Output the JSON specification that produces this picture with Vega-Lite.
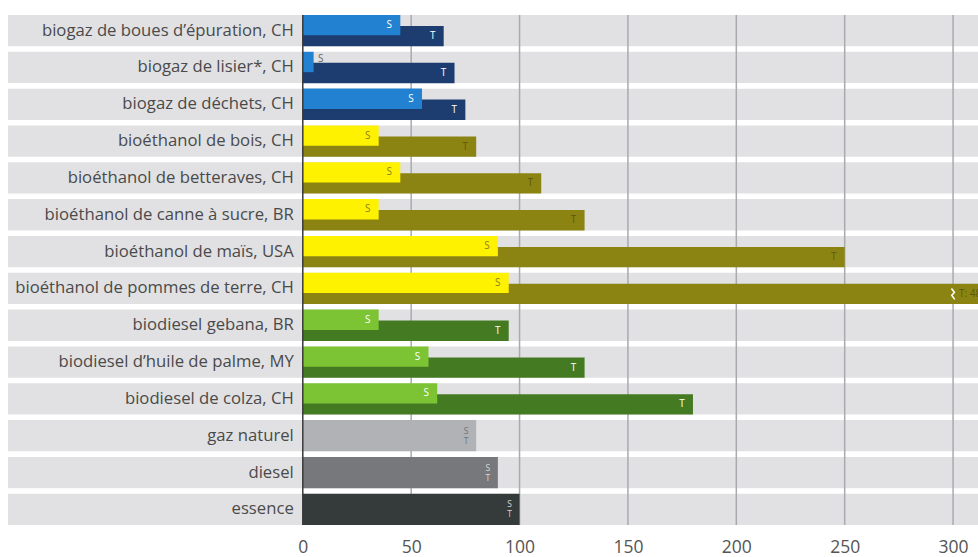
{
  "$schema": "https://vega.github.io/schema/vega-lite/v6.json",
  "width": 970,
  "height": 510,
  "autosize": "none",
  "padding": {"left": 8, "top": 15, "right": 0, "bottom": 32},
  "background": "white",
  "config": {"view": {"stroke": null}, "font": "Open Sans"},
  "data": {"values": [
    {"cat": "biogaz de boues d’épuration, CH", "grp": "biogaz", "S": 45, "T": 65},
    {"cat": "biogaz de lisier*, CH", "grp": "biogaz", "S": 5, "T": 70},
    {"cat": "biogaz de déchets, CH", "grp": "biogaz", "S": 55, "T": 75},
    {"cat": "bioéthanol de bois, CH", "grp": "ethanol", "S": 35, "T": 80},
    {"cat": "bioéthanol de betteraves, CH", "grp": "ethanol", "S": 45, "T": 110},
    {"cat": "bioéthanol de canne à sucre, BR", "grp": "ethanol", "S": 35, "T": 130},
    {"cat": "bioéthanol de maïs, USA", "grp": "ethanol", "S": 90, "T": 250},
    {"cat": "bioéthanol de pommes de terre, CH", "grp": "ethanol", "S": 95, "T": 480},
    {"cat": "biodiesel gebana, BR", "grp": "biodiesel", "S": 35, "T": 95},
    {"cat": "biodiesel d’huile de palme, MY", "grp": "biodiesel", "S": 58, "T": 130},
    {"cat": "biodiesel de colza, CH", "grp": "biodiesel", "S": 62, "T": 180},
    {"cat": "gaz naturel", "grp": "gaz", "S": 80, "T": 80},
    {"cat": "diesel", "grp": "diesel", "S": 90, "T": 90},
    {"cat": "essence", "grp": "essence", "S": 100, "T": 100}
  ]},
  "encoding": {
    "y": {
      "field": "cat", "type": "nominal", "sort": null,
      "scale": {"paddingInner": 0.15, "paddingOuter": 0},
      "axis": null
    }
  },
  "layer": [
    {
      "mark": {"type": "bar", "color": "#e1e1e3"},
      "encoding": {
        "x": {
          "datum": -136, "type": "quantitative",
          "scale": {"domain": [-136, 311.5], "nice": false, "zero": false, "clamp": true},
          "axis": {
            "values": [0, 50, 100, 150, 200, 250, 300],
            "grid": false, "ticks": false, "domain": false, "title": null,
            "labelFontSize": 17.5, "labelColor": "#555555", "labelPadding": 13, "labelFont": "Open Sans"
          }
        },
        "x2": {"datum": 311.5}
      }
    },
    {
      "data": {"values": [{"v": 50}, {"v": 100}, {"v": 150}, {"v": 200}, {"v": 250}, {"v": 300}]},
      "mark": {"type": "rule", "color": "#a9aaad", "strokeWidth": 1.5},
      "encoding": {"x": {"field": "v", "type": "quantitative"}, "y": null}
    },
    {
      "transform": [{"filter": "datum.grp === 'biogaz' || datum.grp === 'ethanol' || datum.grp === 'biodiesel'"}],
      "mark": {"type": "bar", "height": {"band": 0.65}, "yOffset": 5.5},
      "encoding": {
        "x": {"field": "T", "type": "quantitative"},
        "x2": {"datum": 0},
        "color": {"condition": [
          {"test": "datum.grp === 'biogaz'", "value": "#1d3d70"},
          {"test": "datum.grp === 'ethanol'", "value": "#8b8412"}
        ], "value": "#447a22"}
      }
    },
    {
      "transform": [{"filter": "datum.grp === 'biogaz' || datum.grp === 'ethanol' || datum.grp === 'biodiesel'"}],
      "mark": {"type": "bar", "height": {"band": 0.65}, "yOffset": -5.5},
      "encoding": {
        "x": {"field": "S", "type": "quantitative"},
        "x2": {"datum": 0},
        "color": {"condition": [
          {"test": "datum.grp === 'biogaz'", "value": "#2381d1"},
          {"test": "datum.grp === 'ethanol'", "value": "#fff200"}
        ], "value": "#7cc433"}
      }
    },
    {
      "transform": [{"filter": "datum.grp === 'gaz' || datum.grp === 'diesel' || datum.grp === 'essence'"}],
      "mark": {"type": "bar"},
      "encoding": {
        "x": {"field": "T", "type": "quantitative"},
        "x2": {"datum": 0},
        "color": {"condition": [
          {"test": "datum.grp === 'gaz'", "value": "#b0b2b5"},
          {"test": "datum.grp === 'diesel'", "value": "#76787b"}
        ], "value": "#353a3a"}
      }
    },
    {
      "data": {"values": [{"v": 0}]},
      "mark": {"type": "rule", "color": "#3a3a3a", "strokeWidth": 1.5},
      "encoding": {"x": {"field": "v", "type": "quantitative"}, "y": null}
    },
    {
      "mark": {"type": "text", "align": "right", "baseline": "middle", "dx": -9, "fontSize": 16.7, "color": "#4a4a4a"},
      "encoding": {
        "x": {"datum": 0},
        "text": {"field": "cat"}
      }
    },
    {
      "transform": [{"filter": "(datum.grp === 'biogaz' || datum.grp === 'ethanol' || datum.grp === 'biodiesel') && datum.T <= 300"}],
      "mark": {"type": "text", "align": "center", "baseline": "middle", "dx": -11, "dy": 5.5, "fontSize": 10},
      "encoding": {
        "x": {"field": "T", "type": "quantitative"},
        "text": {"value": "T"},
        "color": {"condition": {"test": "datum.grp === 'ethanol'", "value": "#5c570c"}, "value": "#ffffff"}
      }
    },
    {
      "transform": [{"filter": "(datum.grp === 'biogaz' || datum.grp === 'ethanol' || datum.grp === 'biodiesel') && datum.S >= 15"}],
      "mark": {"type": "text", "align": "center", "baseline": "middle", "dx": -11, "dy": -5.5, "fontSize": 10},
      "encoding": {
        "x": {"field": "S", "type": "quantitative"},
        "text": {"value": "S"},
        "color": {"condition": {"test": "datum.grp === 'ethanol'", "value": "#8a8320"}, "value": "#ffffff"}
      }
    },
    {
      "transform": [{"filter": "datum.S < 15"}],
      "mark": {"type": "text", "align": "center", "baseline": "middle", "dx": 7, "dy": -8, "fontSize": 10, "color": "#666666"},
      "encoding": {
        "x": {"field": "S", "type": "quantitative"},
        "text": {"value": "S"}
      }
    },
    {
      "transform": [{"filter": "datum.T > 300"}],
      "mark": {"type": "point", "shape": "M-0.3,-1L0.25,-0.25L-0.25,0.25L0.3,1", "filled": false, "stroke": "#ffffff", "strokeWidth": 1.5, "size": 120, "yOffset": 5.5, "opacity": 1},
      "encoding": {"x": {"datum": 300}}
    },
    {
      "transform": [{"filter": "datum.T > 300"}],
      "mark": {"type": "text", "align": "left", "baseline": "middle", "dx": 6, "dy": 5.5, "fontSize": 10, "color": "#5c570c"},
      "encoding": {
        "x": {"datum": 300},
        "text": {"value": "T: 480"}
      }
    },
    {
      "transform": [{"filter": "datum.grp === 'gaz' || datum.grp === 'diesel' || datum.grp === 'essence'"}],
      "mark": {"type": "text", "align": "center", "baseline": "middle", "dx": -10, "dy": -5, "fontSize": 8.5},
      "encoding": {
        "x": {"field": "T", "type": "quantitative"},
        "text": {"value": "S"},
        "color": {"condition": {"test": "datum.grp === 'gaz'", "value": "#707276"}, "value": "#d8d8d8"}
      }
    },
    {
      "transform": [{"filter": "datum.grp === 'gaz' || datum.grp === 'diesel' || datum.grp === 'essence'"}],
      "mark": {"type": "text", "align": "center", "baseline": "middle", "dx": -10, "dy": 5, "fontSize": 8.5},
      "encoding": {
        "x": {"field": "T", "type": "quantitative"},
        "text": {"value": "T"},
        "color": {"condition": {"test": "datum.grp === 'gaz'", "value": "#707276"}, "value": "#d8d8d8"}
      }
    }
  ]
}
